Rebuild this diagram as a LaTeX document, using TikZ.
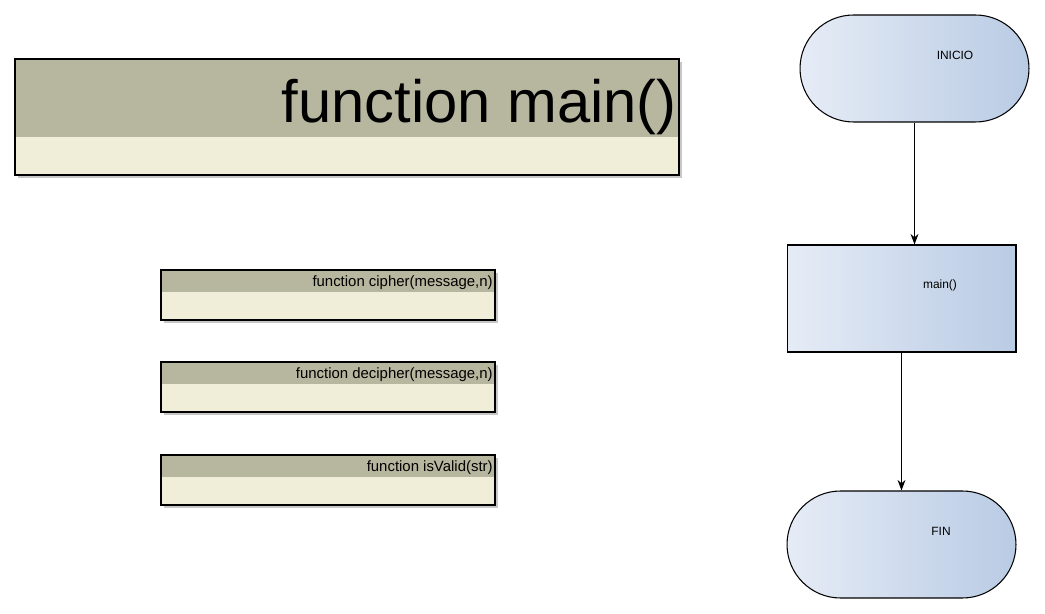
\documentclass[tikz,border=0pt]{standalone}
\usepackage{fontspec}
\setmainfont{Liberation Sans}
\usetikzlibrary{arrows.meta}

\definecolor{headgray}{HTML}{B7B79F}
\definecolor{bodycream}{HTML}{F0EED9}
\definecolor{flowlight}{HTML}{E6ECF6}
\definecolor{flowdark}{HTML}{B9CBE4}

\tikzset{
 funcshadow/.style={fill=black!22, draw=none},
 funchead/.style={fill=headgray, draw=none},
 funcbody/.style={fill=bodycream, draw=none},
 functxt/.style={anchor=base east, inner sep=0pt, font=\fontsize{8.5}{10}\selectfont},
 terminal/.style={draw=black, line width=0.6pt, left color=flowlight, right color=flowdark, rounded corners=1.07cm, minimum width=4.58cm, minimum height=2.14cm},
 process/.style={draw=black, line width=0.6pt, left color=flowlight, right color=flowdark, minimum width=4.58cm, minimum height=2.14cm},
 flowtxt/.style={inner sep=0pt, font=\fontsize{6.8}{8}\selectfont},
 flowarrow/.style={-{Stealth[length=6pt,width=4.5pt]}, line width=0.6pt}
}

\begin{document}
\begin{tikzpicture}[x=0.02cm, y=-0.02cm]

 \useasboundingbox (0,0) rectangle (1045,614);
 \fill[white] (0,0) rectangle (1045,614);

 % big function box
 \fill[funcshadow] (18,62) rectangle (682,178);
 \fill[funchead] (15,59) rectangle (679,137);
 \fill[funcbody] (15,137) rectangle (679,175);
 \draw[line width=0.6pt] (15,59) rectangle (679,175);
 \node[anchor=base east, inner sep=0pt, font=\fontsize{34}{40}\selectfont] (maintitle) at (677,123) {function main()};

 % small function boxes
 \foreach \y/\txt/\nm in {270/{function cipher(message,n)}/cipher,
                          362/{function decipher(message,n)}/decipher,
                          455/{function isValid(str)}/isvalid}{
   \fill[funcshadow] (164,\y+3) rectangle (498,\y+53);
   \fill[funchead] (161,\y) rectangle (495,\y+22);
   \fill[funcbody] (161,\y+22) rectangle (495,\y+50);
   \draw[line width=0.6pt] (161,\y) rectangle (495,\y+50);
   \node[functxt] (\nm) at (493,\y+17) {\txt};
 }

 % flowchart
 \node[terminal] (inicio) at (914.5,68.5) {};
 \node[flowtxt] (iniciotxt) at (955,55) {INICIO};

 \node[process] (proc) at (901.5,298.5) {};
 \node[flowtxt] (proctxt) at (940,285) {main()};

 \node[terminal] (fin) at (901.5,544.5) {};
 \node[flowtxt] (fintxt) at (941,531) {FIN};

 \draw[flowarrow] (inicio.south) -- (inicio.south |- proc.north);
 \draw[flowarrow] (proc.south) -- (fin.north);

\end{tikzpicture}
\end{document}
